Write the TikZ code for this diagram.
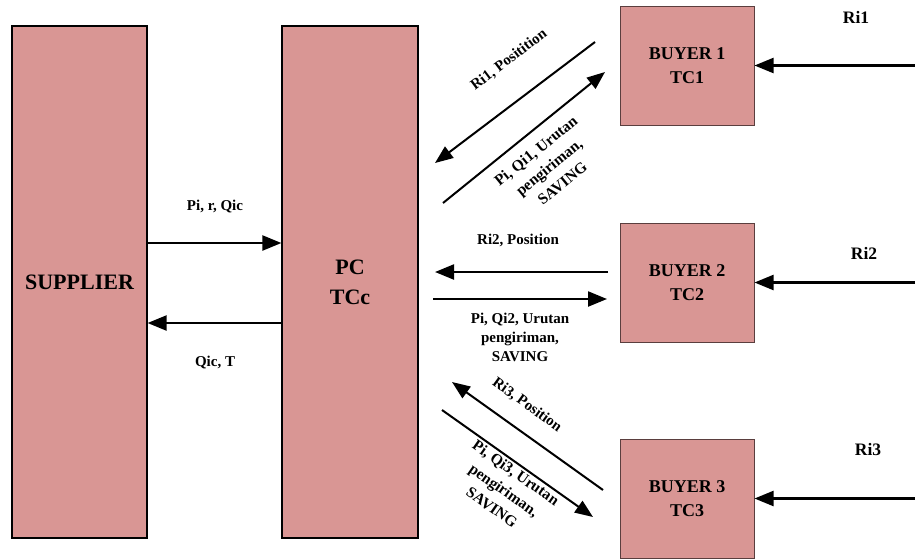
\documentclass[tikz,border=0pt]{standalone}
\usepackage{fontspec}
\setmainfont{Liberation Serif}
\usetikzlibrary{arrows.meta}
\definecolor{boxfill}{HTML}{D99694}
\definecolor{buyerline}{HTML}{5A3E3E}
\tikzset{
  bigbox/.style={draw=black, line width=1.2pt, fill=boxfill, inner sep=0pt,
    minimum width=135pt, minimum height=512pt, align=center,
    font=\fontsize{22}{30}\selectfont\bfseries},
  buyerbox/.style={draw=buyerline, line width=1pt, fill=boxfill, inner sep=0pt,
    minimum width=134pt, minimum height=119pt, align=center,
    font=\fontsize{18}{24}\selectfont\bfseries},
  flow/.style={line width=2.2pt, -{Triangle[length=19pt,width=15pt]}},
  slant/.style={line width=2pt, -{Triangle[length=18pt,width=14pt]}},
  lbl/.style={inner sep=0pt, align=center, font=\fontsize{15}{19}\selectfont\bfseries},
  tiltlbl/.style={lbl, font=\fontsize{15.5}{21}\selectfont\bfseries},
  demand/.style={inner sep=0pt, font=\fontsize{17.5}{21}\selectfont\bfseries}
}
\begin{document}
\begin{tikzpicture}[x=1pt, y=-1pt]
\useasboundingbox (0,0) rectangle (915,558);

% main blocks
\node[bigbox] (sup) at (79.5,282) {SUPPLIER};
\node[bigbox, minimum width=136pt] (pc) at (350,282) {PC\\TCc};
\node[buyerbox] (b1) at (687,65.5) {BUYER 1\\TC1};
\node[buyerbox] (b2) at (687,282.5) {BUYER 2\\TC2};
\node[buyerbox] (b3) at (687,498.5) {BUYER 3\\TC3};

% supplier <-> PC
\draw[flow] ([yshift=39pt]sup.east) -- ([yshift=39pt]pc.west);
\draw[flow] ([yshift=-41pt]pc.west) -- ([yshift=-41pt]sup.east);
\node[lbl] (lpr) at (215,207) {Pi, r, Qic};
\node[lbl] (lqt) at (215,363) {Qic, T};

% demand entering each buyer
\coordinate (in1) at (915,65.5);
\coordinate (in2) at (915,282.5);
\coordinate (in3) at (915,498.5);
\draw[flow] (in1) -- (b1.east);
\draw[flow] (in2) -- (b2.east);
\draw[flow] (in3) -- (b3.east);
\node[demand] (r1) at (856,17) {Ri1};
\node[demand] (r2) at (864,253) {Ri2};
\node[demand] (r3) at (868,450) {Ri3};

% PC <-> buyer 1
\coordinate (a1s) at (595,42);
\coordinate (a1e) at (435,163);
\coordinate (c1s) at (443,203);
\coordinate (c1e) at (605,72);
\draw[slant] (a1s) -- (a1e);
\draw[slant] (c1s) -- (c1e);
\node[lbl, rotate=37] (l1a) at (509,60) {Ri1, Positition};
\node[tiltlbl, rotate=39] (l1b) at (549,167) {Pi, Qi1, Urutan\\pengiriman,\\SAVING};

% PC <-> buyer 2
\coordinate (a2s) at (608,272);
\coordinate (a2e) at (435,272);
\coordinate (c2s) at (433,299);
\coordinate (c2e) at (607,299);
\draw[flow] (a2s) -- (a2e);
\draw[flow] (c2s) -- (c2e);
\node[lbl] (l2a) at (518,240) {Ri2, Position};
\node[lbl] (l2b) at (520,337) {Pi, Qi2, Urutan\\pengiriman,\\SAVING};

% PC <-> buyer 3
\coordinate (a3s) at (603,490);
\coordinate (a3e) at (452,382);
\coordinate (c3s) at (442,410);
\coordinate (c3e) at (593,517);
\draw[slant] (a3s) -- (a3e);
\draw[slant] (c3s) -- (c3e);
\node[lbl, rotate=-36] (l3a) at (527,405) {Ri3, Position};
\node[tiltlbl, rotate=-35] (l3b) at (504,490) {Pi, Qi3, Urutan\\pengiriman,\\SAVING};
\end{tikzpicture}
\end{document}
